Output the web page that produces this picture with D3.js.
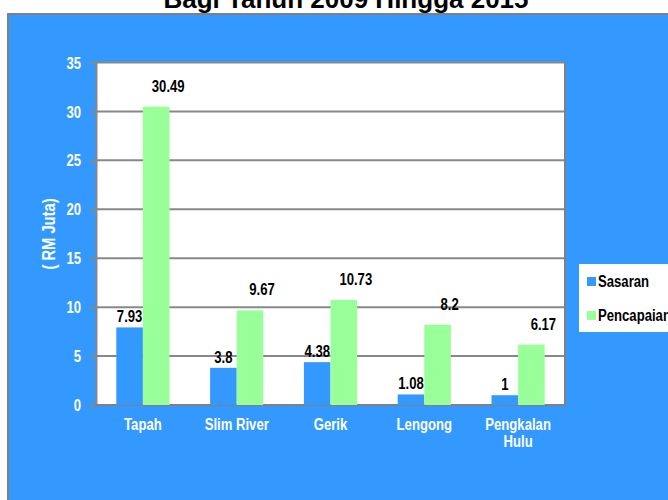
<!DOCTYPE html>
<html>
<head>
<meta charset="utf-8">
<script src="https://cdn.jsdelivr.net/npm/d3@7"></script>
<style>
  html, body { margin: 0; padding: 0; background: #ffffff; }
  svg { display: block; }
  text { font-family: "Liberation Sans", Arial, sans-serif; font-weight: bold; }
</style>
</head>
<body>
<svg id="chart" width="668" height="500"></svg>
<script>
const title = "Bagi Tahun 2009 Hingga 2015";
const categories = ["Tapah", "Slim River", "Gerik", "Lengong", "Pengkalan Hulu"];
const seriesNames = ["Sasaran", "Pencapaian"];
const sasaran = [7.93, 3.8, 4.38, 1.08, 1];
const pencapaian = [30.49, 9.67, 10.73, 8.2, 6.17];
const yTicks = [0, 5, 10, 15, 20, 25, 30, 35];
const yTitle = "( RM Juta)";
const colors = ["#3399FF", "#99FF99"];

(function () {
const svg = d3.select("#chart");
const SX = 0.82; // condensed look

// outer blue panel
svg.append("rect").attr("x", 8).attr("y", 14).attr("width", 680).attr("height", 500)
  .attr("fill", "#3399FF").attr("stroke", "#808080").attr("stroke-width", 2);

// title (partially cut at top)
svg.append("text").attr("x", 346).attr("y", 7.5).attr("text-anchor", "middle")
  .attr("font-size", 26).attr("fill", "#000").text(title);

const pL = 96, pR = 565, pT = 62.5, pB = 405;

// plot area
svg.append("rect").attr("x", pL).attr("y", pT).attr("width", pR - pL).attr("height", pB - pT)
  .attr("fill", "#ffffff");

const x0 = d3.scaleBand().domain(categories).range([pL, pR]).paddingInner(0.433).paddingOuter(0.2165);
const x1 = d3.scaleBand().domain(seriesNames).range([0, x0.bandwidth()]).padding(0);
const y = d3.scaleLinear().domain([0, 35]).range([pB, pT]);

// gridlines
svg.append("g").selectAll("line").data(yTicks.filter(d => d > 0)).join("line")
  .attr("x1", pL).attr("x2", pR).attr("y1", d => y(d)).attr("y2", d => y(d))
  .attr("stroke", "#888888").attr("stroke-width", 2);

// y axis
const yAxis = svg.append("g").attr("transform", `translate(${pL},0)`)
  .call(d3.axisLeft(y).tickValues(yTicks).tickSize(6).tickPadding(9).tickFormat(d3.format("d")));
yAxis.select(".domain").attr("stroke", "#888888").attr("stroke-width", 2);
yAxis.selectAll(".tick line").attr("stroke", "#888888").attr("stroke-width", 2);
yAxis.selectAll(".tick text").attr("fill", "#ffffff").attr("font-size", 16)
  .attr("font-family", "'Liberation Sans', Arial, sans-serif").attr("font-weight", "bold")
  .attr("x", -15 / SX).attr("dy", "0.35em").attr("transform", `scale(${SX},1)`);

// frame right & bottom
svg.append("line").attr("x1", pR).attr("x2", pR).attr("y1", pT).attr("y2", pB)
  .attr("stroke", "#808080").attr("stroke-width", 2);
svg.append("line").attr("x1", pL - 1).attr("x2", pR + 1).attr("y1", pB).attr("y2", pB)
  .attr("stroke", "#808080").attr("stroke-width", 2);

// bars
const rows = categories.map((c, i) => ({ cat: c, vals: [sasaran[i], pencapaian[i]] }));
const groups = svg.append("g").selectAll("g").data(rows).join("g")
  .attr("transform", d => `translate(${x0(d.cat)},0)`);
groups.selectAll("rect").data(d => d.vals.map((v, j) => ({ s: seriesNames[j], v, j }))).join("rect")
  .attr("x", d => x1(d.s)).attr("width", x1.bandwidth())
  .attr("y", d => y(d.v)).attr("height", d => pB - y(d.v))
  .attr("fill", d => colors[d.j]);
groups.selectAll("text").data(d => d.vals.map((v, j) => ({ s: seriesNames[j], v, j }))).join("text")
  .attr("transform", d => `translate(${x1(d.s) + x1.bandwidth() / 2 + (d.j === 1 ? 12 : 0)},${y(d.v) - (d.j === 1 ? 15 : 5)}) scale(${SX},1)`)
  .attr("text-anchor", "middle").attr("font-size", 16).attr("fill", "#000")
  .text(d => String(d.v));

// category labels
const catG = svg.append("g");
categories.forEach(c => {
  const words = c === "Pengkalan Hulu" ? ["Pengkalan", "Hulu"] : [c];
  const t = catG.append("text").attr("text-anchor", "middle").attr("font-size", 16).attr("fill", "#ffffff")
    .attr("transform", `translate(${x0(c) + x0.bandwidth() / 2},0) scale(${SX},1)`);
  words.forEach((w, k) => {
    t.append("tspan").attr("x", 0).attr("y", 430 + k * 17).text(w);
  });
});

// y title
svg.append("text").attr("transform", `translate(55,234) rotate(-90) scale(${SX},1)`).attr("text-anchor", "middle")
  .attr("font-size", 18).attr("fill", "#ffffff").text(yTitle);

// legend
svg.append("rect").attr("x", 579).attr("y", 264).attr("width", 100).attr("height", 68).attr("fill", "#ffffff");
const leg = svg.append("g").selectAll("g").data(seriesNames).join("g")
  .attr("transform", (d, i) => `translate(587,${277 + i * 34})`);
leg.append("rect").attr("width", 9).attr("height", 9).attr("fill", (d, i) => colors[i]);
leg.append("text").attr("transform", `translate(11,10) scale(${SX},1)`).attr("font-size", 16).attr("fill", "#000").text(d => d);
})();
</script>
</body>
</html>
